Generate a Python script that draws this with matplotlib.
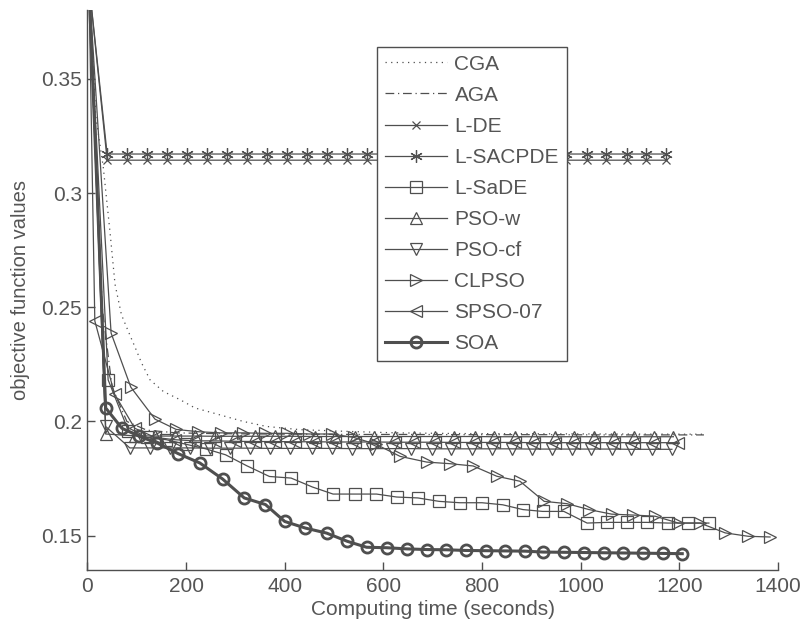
import matplotlib
matplotlib.use("Agg")
import matplotlib.pyplot as plt

plt.rcParams['font.family'] = ['Liberation Sans', 'DejaVu Sans']

# ---- data ----
cga_t = [3, 17, 32, 46, 56, 69, 83, 96, 110, 127, 154, 188, 218, 255, 316, 363, 431, 532, 627, 750, 900, 1050, 1250]
cga_y = [0.392, 0.3335, 0.3116, 0.2825, 0.2600, 0.2467, 0.2394, 0.2328, 0.2255, 0.2182, 0.2131, 0.2095, 0.2059,
         0.2037, 0.2000, 0.1978, 0.1964, 0.1956, 0.1950, 0.1947, 0.1946, 0.1945, 0.1944]

aga_t = [3, 30, 50, 80, 120, 180, 250, 350, 450, 550, 650, 750, 850, 950, 1050, 1150, 1250]
aga_y = [0.392, 0.250, 0.215, 0.200, 0.1962, 0.1950, 0.1947, 0.1945, 0.1944, 0.1943, 0.1943, 0.1942, 0.1942,
         0.1942, 0.1941, 0.1941, 0.1941]

lde_t = [3, 40, 80, 121, 161, 202, 242, 283, 323, 364, 404, 445, 485, 526, 566, 607, 647, 688, 728, 769, 809,
         850, 890, 931, 971, 1012, 1052, 1093, 1133, 1174]
lde_y = [0.392, 0.3144, 0.3144, 0.3144, 0.3144, 0.3144, 0.3144, 0.3144, 0.3144, 0.3144, 0.3144, 0.3144, 0.3144,
         0.3144, 0.3144, 0.3144, 0.3144, 0.3144, 0.3144, 0.3144, 0.3144, 0.3144, 0.3144, 0.3144, 0.3144, 0.3144,
         0.3144, 0.3144, 0.3144, 0.3144]
lsac_y = [0.392, 0.3171, 0.3171, 0.3171, 0.3171, 0.3171, 0.3171, 0.3171, 0.3171, 0.3171, 0.3171, 0.3171, 0.3171,
          0.3171, 0.3171, 0.3171, 0.3171, 0.3171, 0.3171, 0.3171, 0.3171, 0.3171, 0.3171, 0.3171, 0.3171, 0.3171,
          0.3171, 0.3171, 0.3171, 0.3171]

lsade_t = [3, 42, 83, 120, 160, 200, 240, 280, 323, 369, 413, 456, 498, 542, 586, 627, 670, 713, 755, 800, 842,
           883, 923, 966, 1013, 1053, 1094, 1134, 1177, 1217, 1260]
lsade_y = [0.392, 0.2182, 0.1960, 0.1930, 0.1920, 0.1900, 0.1880, 0.1854, 0.1806, 0.1759, 0.1752, 0.1713, 0.1682,
           0.1682, 0.1682, 0.1669, 0.1665, 0.1650, 0.1644, 0.1644, 0.1635, 0.1614, 0.1606, 0.1606, 0.1555, 0.1558,
           0.1558, 0.1558, 0.1555, 0.1555, 0.1555]

psow_t = [3, 37, 96, 137, 177, 218, 258, 299, 339, 380, 420, 461, 501, 542, 582, 623, 663, 704, 744, 785, 825,
          866, 906, 947, 987, 1027, 1068, 1108, 1148, 1188]
psow_y = [0.392, 0.1945, 0.1937, 0.1936, 0.1936, 0.1936, 0.1935, 0.1935, 0.1935, 0.1935, 0.1935, 0.1934, 0.1934,
          0.1934, 0.1934, 0.1934, 0.1934, 0.1934, 0.1934, 0.1934, 0.1933, 0.1933, 0.1933, 0.1933, 0.1933, 0.1933,
          0.1933, 0.1933, 0.1933, 0.1933]

psocf_t = [3, 37, 86, 127, 168, 208, 249, 289, 329, 370, 411, 455, 495, 536, 576, 617, 657, 698, 738, 779, 820,
           860, 901, 941, 982, 1022, 1063, 1103, 1144, 1185]
psocf_y = [0.392, 0.1978, 0.1884, 0.1884, 0.1884, 0.1884, 0.1883, 0.1883, 0.1883, 0.1882, 0.1882, 0.1882, 0.1882,
           0.1881, 0.1881, 0.1881, 0.1881, 0.1880, 0.1880, 0.1880, 0.1880, 0.1880, 0.1879, 0.1879, 0.1879, 0.1879,
           0.1879, 0.1878, 0.1878, 0.1878]

clpso_t = [3, 48, 88, 137, 180, 225, 270, 315, 360, 405, 450, 495, 540, 585, 634, 688, 735, 782, 830, 877, 926,
           972, 1017, 1063, 1107, 1151, 1198, 1242, 1293, 1340, 1384]
clpso_y = [0.392, 0.2387, 0.2150, 0.2010, 0.1965, 0.1955, 0.1950, 0.1950, 0.1948, 0.1948, 0.1945, 0.1945, 0.1930,
           0.1900, 0.1847, 0.1822, 0.1815, 0.1805, 0.1760, 0.1738, 0.1650, 0.1640, 0.1614, 0.1594, 0.1590, 0.1585,
           0.1555, 0.1555, 0.1512, 0.1497, 0.1494]

spso_t = [3, 15, 55, 96, 137, 177, 218, 258, 299, 339, 380, 420, 461, 501, 542, 582, 623, 663, 704, 744, 785,
          825, 866, 906, 947, 987, 1027, 1068, 1108, 1148, 1197]
spso_y = [0.392, 0.2440, 0.2120, 0.1970, 0.1930, 0.1920, 0.1915, 0.1915, 0.1913, 0.1912, 0.1912, 0.1911, 0.1911,
          0.1910, 0.1910, 0.1910, 0.1909, 0.1909, 0.1909, 0.1908, 0.1908, 0.1908, 0.1908, 0.1907, 0.1907, 0.1907,
          0.1907, 0.1907, 0.1907, 0.1907, 0.1907]

soa_t = [3, 37, 70, 105, 142, 184, 228, 274, 318, 361, 400, 442, 485, 527, 566, 607, 647, 688, 728, 767, 808,
         847, 887, 924, 966, 1006, 1047, 1086, 1127, 1167, 1206]
soa_y = [0.392, 0.2059, 0.1970, 0.1935, 0.1905, 0.1859, 0.1818, 0.1748, 0.1665, 0.1636, 0.1562, 0.1533, 0.1511,
         0.1475, 0.1449, 0.1447, 0.1442, 0.1439, 0.1438, 0.1435, 0.1434, 0.1433, 0.1432, 0.1428, 0.1427, 0.1426,
         0.1425, 0.1424, 0.1423, 0.1422, 0.1421]

x_ticks = [0, 200, 400, 600, 800, 1000, 1200, 1400]
y_ticks = [0.15, 0.2, 0.25, 0.3, 0.35]
y_tick_labels = ['0.15', '0.2', '0.25', '0.3', '0.35']

LC = '#4f4f4f'
TC = '#555555'

fig = plt.figure(figsize=(8.02, 6.29), dpi=100)
ax = fig.add_axes([0.109, 0.094, 0.861, 0.8895])

common = dict(color=LC, markerfacecolor='none', markeredgecolor=LC, linewidth=0.9, markeredgewidth=0.9)

# MATLAB-like look: hollow markers, thin grey lines, thick SOA curve
ax.plot(cga_t, cga_y, linestyle=(0, (1, 3.5)), label='CGA', **common)
ax.plot(aga_t, aga_y, linestyle=(0, (7, 3, 1, 3)), label='AGA', **common)
ax.plot(lde_t, lde_y, '-', marker='x', markersize=6, label='L-DE', **common)
ax.plot(lde_t, lsac_y, '-', marker=(6, 2, 0), markersize=9, label='L-SACPDE', **common)
ax.plot(lsade_t, lsade_y, '-', marker='s', markersize=8.5, label='L-SaDE', **common)
ax.plot(psow_t, psow_y, '-', marker='^', markersize=9, label='PSO-w', **common)
ax.plot(psocf_t, psocf_y, '-', marker='v', markersize=9, label='PSO-cf', **common)
ax.plot(clpso_t, clpso_y, '-', marker='>', markersize=9, label='CLPSO', **common)
ax.plot(spso_t, spso_y, '-', marker='<', markersize=9, label='SPSO-07', **common)
ax.plot(soa_t, soa_y, '-', marker='o', markersize=8, color=LC, markerfacecolor='none',
        markeredgecolor=LC, linewidth=2.2, markeredgewidth=2.0, label='SOA')

ax.set_xlim(0, 1400)
ax.set_ylim(0.135, 0.38)
ax.set_xticks(x_ticks)
ax.set_yticks(y_ticks)
ax.set_yticklabels(y_tick_labels)

for s in ['top', 'right']:
    ax.spines[s].set_visible(False)
for s in ['left', 'bottom']:
    ax.spines[s].set_color(LC)
    ax.spines[s].set_linewidth(1.0)

ax.tick_params(direction='in', length=6, width=1.0, color=LC, labelcolor=TC, labelsize=15)
ax.tick_params(axis='x', pad=5)
ax.tick_params(axis='y', pad=4)

ax.set_xlabel('Computing time (seconds)', fontsize=15, color=TC, labelpad=3)
ax.set_ylabel('objective function values', fontsize=14.5, color=TC, labelpad=8)

leg = ax.legend(loc='upper left', bbox_to_anchor=(0.419, 0.935), borderaxespad=0,
                fontsize=15, labelspacing=0.58, handlelength=3.0, handletextpad=0.35,
                borderpad=0.38, fancybox=False, framealpha=1, edgecolor=LC)
leg.get_frame().set_linewidth(1.0)
for t in leg.get_texts():
    t.set_color(TC)

fig.savefig('out.png', dpi=100, facecolor='white')
